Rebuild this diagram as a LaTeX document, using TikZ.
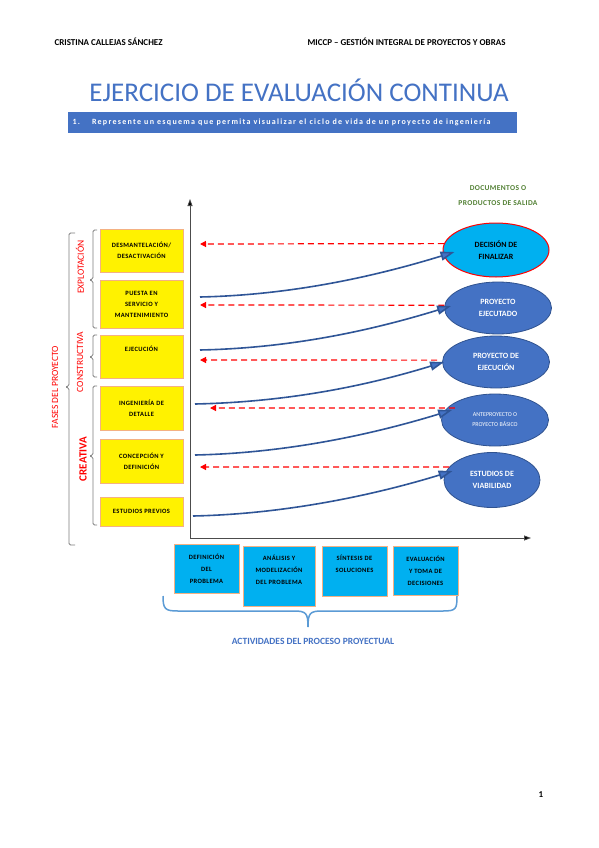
\documentclass[tikz,border=0pt]{standalone}
\usepackage{fontspec}
\setmainfont{Carlito}
\usetikzlibrary{arrows.meta,shapes.geometric}

\definecolor{wordblue}{HTML}{4472C4}
\definecolor{ellborder}{HTML}{2F528F}
\definecolor{curveblue}{HTML}{2F5597}
\definecolor{skyblue}{HTML}{00B0F0}
\definecolor{boxorange}{HTML}{F4B183}
\definecolor{docgreen}{HTML}{538135}
\definecolor{bracegray}{HTML}{7F7F7F}
\definecolor{bracelight}{HTML}{5B9BD5}

\begin{document}
\begin{tikzpicture}[x=1pt,y=-1pt,
    phasebox/.style={draw=boxorange, fill=yellow, line width=0.9pt, minimum width=83pt,
        inner sep=1pt, align=center,
        font=\fontsize{6.5}{11}\selectfont\bfseries\addfontfeature{LetterSpace=6}},
    actbox/.style={draw=boxorange, fill=skyblue, line width=0.9pt, inner sep=1pt, align=center,
        font=\fontsize{6.5}{12}\selectfont\bfseries\addfontfeature{LetterSpace=6}},
    outputbox/.style={ellipse, draw=ellborder, fill=wordblue, line width=0.8pt, text=white,
        inner sep=0pt, align=center, font=\fontsize{8}{12.5}\selectfont\bfseries},
    phaselabel/.style={rotate=90, text=red, font=\fontsize{9.5}{10}\selectfont},
    bracket/.style={draw=bracegray, line width=0.8pt, rounded corners=1.5pt},
    axis/.style={draw=black!70, line width=0.8pt, -{Triangle[length=7pt,width=5pt,fill=black]}},
    flowarrow/.style={draw=curveblue, line width=1.6pt,
        -{Triangle[length=14pt,width=9pt,fill=wordblue]}},
    feedback/.style={draw=red, line width=1.2pt, dash pattern=on 6pt off 4pt,
        -{Triangle[length=6pt,width=6pt]}}]
    \fill[white] (0,0) rectangle (599,848);
    \useasboundingbox (0,0) rectangle (599,848);

    % Header
    \node[anchor=west, font=\fontsize{9}{10}\selectfont\bfseries] (author) at (51,42)
        {CRISTINA CALLEJAS SÁNCHEZ};
    \node[anchor=west, font=\fontsize{9}{10}\selectfont\bfseries] (course) at (304,42)
        {MICCP – GESTIÓN INTEGRAL DE PROYECTOS Y OBRAS};
    \node[text=wordblue, font=\fontsize{27}{30}\selectfont] (title) at (299,90)
        {EJERCICIO DE EVALUACIÓN CONTINUA};
    \node[fill=wordblue, minimum width=449pt, minimum height=21pt, inner sep=0pt] (bar)
        at (292.5,122.5) {};
    \node[anchor=west, text=white, font=\fontsize{8}{9}\selectfont\bfseries\addfontfeature{LetterSpace=16}]
        (task) at (69,122.5)
        {1.\hspace{12pt}Represente un esquema que permita visualizar el ciclo de vida de un proyecto de ingeniería};

    % Axes
    \coordinate (origin) at (190,538);
    \coordinate (ytop) at (190,199);
    \coordinate (xend) at (531,538);
    \draw[axis] (origin) -- (ytop);
    \draw[axis] (origin) -- (xend);

    % Phases
    \node[phasebox, minimum height=43pt] (desm) at (141.5,250.5) {DESMANTELACIÓN/\\DESACTIVACIÓN};
    \node[phasebox, minimum height=48pt] (puesta) at (141.5,304) {PUESTA EN\\SERVICIO Y\\MANTENIMIENTO};
    \node[phasebox, minimum height=43pt, text depth=15pt] (ejecucion) at (141.5,356.5) {EJECUCIÓN};
    \node[phasebox, minimum height=44pt] (ingdet) at (141.5,408) {INGENIERÍA DE\\DETALLE};
    \node[phasebox, minimum height=44pt] (concep) at (141.5,461) {CONCEPCIÓN Y\\DEFINICIÓN};
    \node[phasebox, minimum height=29pt] (estprev) at (141.5,511.5) {ESTUDIOS PREVIOS};

    % Brackets
    \draw[bracket] (97,230) -- (93,230) -- (93,279) -- (89,280) -- (93,281) -- (93,328) -- (97,328);
    \draw[bracket] (97,335) -- (93,335) -- (93,356) -- (89,357) -- (93,358) -- (93,377) -- (97,377);
    \draw[bracket] (97,386) -- (93,386) -- (93,455) -- (89,456) -- (93,457) -- (93,525) -- (97,525);
    \draw[bracket] (75,233) -- (69,233) -- (69,386) -- (65,387) -- (69,388) -- (69,545) -- (75,545);
    \node[phaselabel] (explot) at (80,267) {EXPLOTACIÓN};
    \node[phaselabel] (constr) at (80,362) {CONSTRUCTIVA};
    \node[phaselabel, font=\fontsize{11}{12}\selectfont\bfseries] (creat) at (83,459) {CREATIVA};
    \node[phaselabel] (fases) at (55,387) {FASES DEL PROYECTO};

    % Outputs
    \node[text=docgreen, align=center, font=\fontsize{7.5}{15}\selectfont\bfseries\addfontfeature{LetterSpace=5}]
        (docs) at (498,196) {DOCUMENTOS O\\PRODUCTOS DE SALIDA};
    \node[outputbox, fill=skyblue, draw=red, text=black, line width=1pt,
        minimum width=106pt, minimum height=54pt] (fin) at (496,250) {DECISIÓN DE\\FINALIZAR};
    \node[outputbox, minimum width=107pt, minimum height=52pt] (ejecutado) at (498,308)
        {PROYECTO\\EJECUTADO};
    \node[outputbox, minimum width=107pt, minimum height=52pt] (proyejec) at (496,362)
        {PROYECTO DE\\EJECUCIÓN};
    \node[outputbox, minimum width=107pt, minimum height=52pt, font=\fontsize{6}{10}\selectfont]
        (ante) at (495,420) {ANTEPROYECTO O\\PROYECTO BÁSICO};
    \node[outputbox, minimum width=96pt, minimum height=55pt] (viab) at (492,480)
        {ESTUDIOS DE\\VIABILIDAD};

    % Feedback
    \coordinate (d1) at (200,244);
    \coordinate (d2) at (200,305);
    \coordinate (d3) at (200,360);
    \coordinate (d4) at (210,408);
    \coordinate (d5) at (200,467);
    \draw[feedback] (fin.173) -- (d1);
    \draw[feedback] (ejecutado.177) -- (d2);
    \draw[feedback] ([xshift=-5pt]proyejec.178) -- (d3);
    \draw[feedback] ([xshift=8pt]ante.166) -- (d4);
    \draw[feedback] (viab.163) -- (d5);

    % Flow
    \coordinate (s1) at (200,297);
    \coordinate (s2) at (200,350);
    \coordinate (s3) at (195,404);
    \coordinate (s4) at (195,455);
    \coordinate (s5) at (193,516);
    \draw[flowarrow] (s1) .. controls +(95,-2) and +(-75,23) .. ([xshift=12pt,yshift=-2pt]fin.west);
    \draw[flowarrow] (s2) .. controls +(95,-2) and +(-75,23) .. ([xshift=7pt,yshift=2pt]ejecutado.west);
    \draw[flowarrow] (s3) .. controls +(95,-2) and +(-75,23) .. ([xshift=2pt]proyejec.west);
    \draw[flowarrow] (s4) .. controls +(95,-2) and +(-75,23) .. ([xshift=11pt,yshift=10pt]ante.west);
    \draw[flowarrow] (s5) .. controls +(95,-2) and +(-75,23) .. ([xshift=9pt,yshift=9pt]viab.west);

    % Activities
    \node[actbox, minimum width=65pt, minimum height=49pt] (defin) at (206.5,568.5)
        {DEFINICIÓN\\DEL\\PROBLEMA};
    \node[actbox, minimum width=72pt, minimum height=60pt, text depth=12pt] (analisis) at (279,576)
        {ANÁLISIS Y\\MODELIZACIÓN\\DEL PROBLEMA};
    \node[actbox, minimum width=65pt, minimum height=50pt, text depth=14pt] (sintesis) at (354.5,571)
        {SÍNTESIS DE\\SOLUCIONES};
    \node[actbox, minimum width=65pt, minimum height=49pt] (evalua) at (425.5,570.5)
        {EVALUACIÓN\\Y TOMA DE\\DECISIONES};
    \draw[draw=bracelight, line width=1.5pt] (163,596) .. controls (163,609) and (165,611) .. (178,611)
        -- (294,611) .. controls (306,611) and (308,613) .. (308,627)
        .. controls (308,613) and (310,611) .. (322,611) -- (443,611)
        .. controls (456,611) and (457,609) .. (457,596);
    \node[text=wordblue, font=\fontsize{9.5}{11}\selectfont\bfseries] (activ) at (313,641)
        {ACTIVIDADES DEL PROCESO PROYECTUAL};

    % Page number
    \node[font=\fontsize{9}{10}\selectfont\bfseries] (page) at (541,795) {1};
\end{tikzpicture}
\end{document}
